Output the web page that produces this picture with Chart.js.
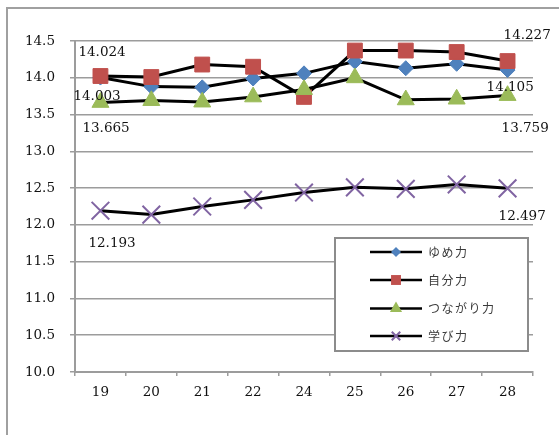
<!DOCTYPE html>
<html>
<head>
<meta charset="utf-8">
<script src="https://cdn.jsdelivr.net/npm/chart.js@4/dist/chart.umd.min.js"></script>
<style>
  html, body { margin: 0; padding: 0; background: #fff; }
  #wrap { width: 559px; height: 435px; }
</style>
</head>
<body>
<div id="wrap"><canvas id="c" width="559" height="435"></canvas></div>
<script>
// Survey years (x categories)
const years = ['19', '20', '21', '22', '24', '25', '26', '27', '28'];

// Average scores per year
const yumeRyoku     = [14.003, 13.88, 13.87, 13.99, 14.06, 14.22, 14.13, 14.19, 14.105];
const jibunRyoku    = [14.024, 14.01, 14.18, 14.15, 13.74, 14.37, 14.37, 14.35, 14.227];
const tsunagariRyoku = [13.665, 13.69, 13.67, 13.74, 13.84, 14.00, 13.70, 13.71, 13.759];
const manabiRyoku   = [12.193, 12.14, 12.25, 12.34, 12.44, 12.51, 12.49, 12.55, 12.497];

const seriesNames = ['ゆめ力', '自分力', 'つながり力', '学び力'];

// y axis ticks
const yMin = 10.0, yMax = 14.5, yStep = 0.5;

const SERIF = '"DejaVu Serif", serif';
const GRID = '#9c9c9c';

const series = [
  { label: seriesNames[0], data: yumeRyoku,      style: 'rectRot',  color: '#4f81bd', r: 7.5 },
  { label: seriesNames[1], data: jibunRyoku,     style: 'rect',     color: '#c0504d', r: 10.5 },
  { label: seriesNames[2], data: tsunagariRyoku, style: 'triangle', color: '#9bbb59', r: 9.8 },
  { label: seriesNames[3], data: manabiRyoku,    style: 'crossRot', color: '#8064a2', r: 12.5 },
];

// Value labels at the first and last point of each series: [dataset, index, dx, dy]
const valueLabels = [
  [1, 0, -22, -24],
  [0, 0, -27, 19],
  [2, 0, -18, 26],
  [3, 0, -12, 33],
  [1, 8, -4, -26],
  [0, 8, -21, 17],
  [2, 8, -6, 33],
  [3, 8, -9, 28],
];

function drawMarker(ctx, style, color, x, y, r, lw) {
  ctx.save();
  ctx.fillStyle = color;
  ctx.strokeStyle = color;
  ctx.lineWidth = lw || 1;
  ctx.beginPath();
  if (style === 'rectRot') {
    ctx.moveTo(x - r, y); ctx.lineTo(x, y - r); ctx.lineTo(x + r, y); ctx.lineTo(x, y + r);
    ctx.closePath(); ctx.fill();
  } else if (style === 'rect') {
    const s = Math.SQRT1_2 * r;
    ctx.rect(x - s, y - s, 2 * s, 2 * s); ctx.fill();
  } else if (style === 'triangle') {
    const h = r * Math.sqrt(3) / 2;
    ctx.moveTo(x, y - r); ctx.lineTo(x + h, y + r / 2); ctx.lineTo(x - h, y + r / 2);
    ctx.closePath(); ctx.fill();
  } else if (style === 'crossRot') {
    const s = Math.SQRT1_2 * r;
    ctx.moveTo(x - s, y - s); ctx.lineTo(x + s, y + s);
    ctx.moveTo(x + s, y - s); ctx.lineTo(x - s, y + s);
    ctx.stroke();
  }
  ctx.restore();
}

// Outer frame and white background
const framePlugin = {
  id: 'frame',
  beforeDraw(chart) {
    const ctx = chart.ctx;
    ctx.save();
    ctx.fillStyle = '#fff';
    ctx.fillRect(0, 0, chart.width, chart.height);
    ctx.strokeStyle = '#a0a0a0';
    ctx.lineWidth = 2;
    ctx.beginPath();
    ctx.moveTo(7, chart.height + 2);
    ctx.lineTo(7, 8);
    ctx.lineTo(chart.width + 2, 8);
    ctx.stroke();
    ctx.restore();
  }
};

// Numeric labels beside the end points
const valueLabelPlugin = {
  id: 'valueLabels',
  afterDatasetsDraw(chart) {
    const ctx = chart.ctx;
    ctx.save();
    ctx.font = '13.5px ' + SERIF;
    ctx.fillStyle = '#111';
    ctx.textAlign = 'left';
    ctx.textBaseline = 'middle';
    valueLabels.forEach(([d, i, dx, dy]) => {
      const pt = chart.getDatasetMeta(d).data[i];
      const v = chart.data.datasets[d].data[i];
      ctx.fillText(v.toFixed(3), pt.x + dx, pt.y + dy);
    });
    ctx.restore();
  }
};

// Boxed legend inside the plot area
const boxLegendPlugin = {
  id: 'boxLegend',
  afterDraw(chart) {
    const ctx = chart.ctx;
    const x0 = 335, y0 = 238, w = 193, h = 113;
    ctx.save();
    ctx.fillStyle = '#fff';
    ctx.fillRect(x0, y0, w, h);
    ctx.strokeStyle = '#8c8c8c';
    ctx.lineWidth = 2;
    ctx.strokeRect(x0, y0, w, h);
    const rowY = [252, 280, 308.5, 336];
    const legendR = [5, 7, 7, 6];
    series.forEach((s, k) => {
      const y = rowY[k];
      ctx.strokeStyle = '#000';
      ctx.lineWidth = 2.5;
      ctx.beginPath();
      ctx.moveTo(370, y); ctx.lineTo(422, y);
      ctx.stroke();
      drawMarker(ctx, s.style, s.color, 396, y, legendR[k], 2);
      ctx.fillStyle = '#3a3a3a';
      ctx.font = '12px "Noto Sans CJK JP", sans-serif';
      if ('letterSpacing' in ctx) ctx.letterSpacing = '1.5px';
      ctx.textAlign = 'left';
      ctx.textBaseline = 'middle';
      ctx.fillText(s.label, 428, y);
      if ('letterSpacing' in ctx) ctx.letterSpacing = '0px';
    });
    ctx.restore();
  }
};

const datasets = series.map((s, k) => ({
  label: s.label,
  data: s.data,
  borderColor: '#000',
  borderWidth: 3,
  tension: 0,
  fill: false,
  pointStyle: s.style,
  pointRadius: s.r,
  pointHoverRadius: s.r,
  pointBackgroundColor: s.color,
  pointBorderColor: s.color,
  pointBorderWidth: s.style === 'crossRot' ? 2 : 1,
  order: 3 - k,
  clip: false,
}));

new Chart(document.getElementById('c'), {
  type: 'line',
  data: { labels: years, datasets },
  plugins: [framePlugin, valueLabelPlugin, boxLegendPlugin],
  options: {
    responsive: false,
    animation: false,
    devicePixelRatio: 1,
    layout: { padding: { left: 0, top: 41, right: 26, bottom: 0 } },
    plugins: {
      legend: { display: false },
      tooltip: { enabled: false },
    },
    scales: {
      x: {
        offset: true,
        grid: {
          offset: true,
          drawOnChartArea: false,
          drawTicks: true,
          tickLength: 4,
          color: GRID,
          lineWidth: 1.5,
        },
        border: { display: true, color: GRID, width: 2 },
        ticks: {
          color: '#111',
          font: { family: SERIF, size: 13.5 },
          padding: 8,
          maxRotation: 0,
          autoSkip: false,
        },
        afterFit(scale) { scale.height = 63; },
      },
      y: {
        min: yMin,
        max: yMax,
        grid: {
          color: GRID,
          lineWidth: 1.5,
          drawTicks: true,
          tickLength: 5,
        },
        border: { display: true, color: GRID, width: 2 },
        ticks: {
          stepSize: yStep,
          color: '#111',
          font: { family: SERIF, size: 13.5 },
          padding: 15,
          callback: (v) => Number(v).toFixed(1),
        },
        afterFit(scale) { scale.width = 75; },
      },
    },
  },
});
</script>
</body>
</html>
